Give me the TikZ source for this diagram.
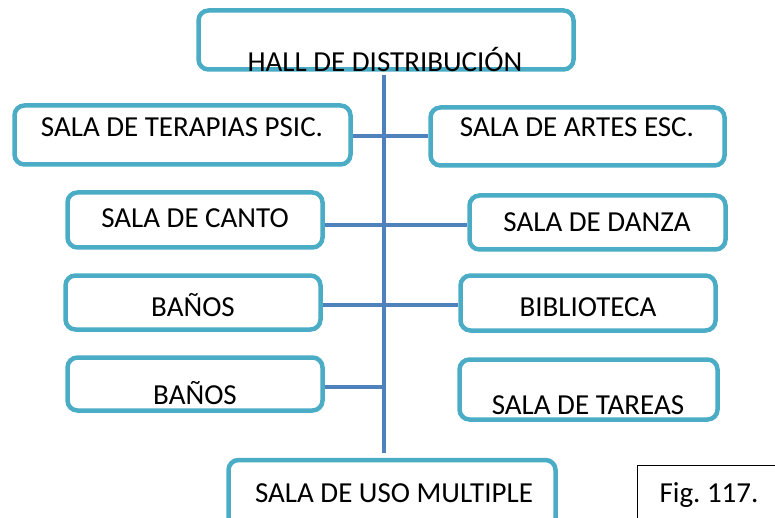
\documentclass[tikz,border=0pt]{standalone}
\usepackage{fontspec}
\setmainfont{Carlito}
\definecolor{boxc}{RGB}{75,172,198}
\definecolor{linec}{RGB}{79,129,189}
\begin{document}
\begin{tikzpicture}[x=1pt,y=-1pt,
  box/.style={draw=boxc,line width=4.5pt,rounded corners=10pt,fill=white,inner sep=0pt},
  figbox/.style={draw=black,line width=0.8pt,fill=white,inner sep=0pt},
  lbl/.style={anchor=base,inner sep=0pt,font=\fontsize{29}{34}\selectfont},
  conn/.style={draw=linec,line width=4.5pt}]
\useasboundingbox (0,0) rectangle (775,518);
\clip (0,0) rectangle (775,518);
% connector rows
\coordinate (r1) at (0,136);
\coordinate (r2) at (0,225);
\coordinate (r3) at (0,305);
\coordinate (r4) at (0,387);
\coordinate (vtop) at (384,75);
\coordinate (vbot) at (384,453);
% boxes
\node[box,minimum width=375pt,minimum height=59pt] (hall) at (386,40) {};
\node[box,minimum width=336pt,minimum height=59pt] (terapias) at (182.5,135) {};
\node[box,minimum width=294pt,minimum height=58pt] (artes) at (577.5,136.5) {};
\node[box,minimum width=255pt,minimum height=55pt] (canto) at (195,220) {};
\node[box,minimum width=256pt,minimum height=54pt] (danza) at (597.5,222.5) {};
\node[box,minimum width=255pt,minimum height=54pt] (banos1) at (193,302.5) {};
\node[box,minimum width=255pt,minimum height=55pt] (biblio) at (588,303) {};
\node[box,minimum width=255pt,minimum height=53pt] (banos2) at (195,384) {};
\node[box,minimum width=258pt,minimum height=60pt] (tareas) at (588.5,389.5) {};
\node[box,minimum width=327pt,minimum height=68pt] (uso) at (392,494) {};
\node[figbox,minimum width=160pt,minimum height=80pt] (fig) at (717,505) {};
% connectors
\draw[conn] (vtop) -- (vbot);
\draw[conn] (terapias.east |- r1) -- (artes.west |- r1);
\draw[conn] (canto.east |- r2) -- (danza.west |- r2);
\draw[conn] (banos1.east |- r3) -- (biblio.west |- r3);
\draw[conn] (banos2.east |- r4) -- (vtop |- r4);
% labels
\node[lbl] (hallt) at (385,72) {HALL DE DISTRIBUCIÓN};
\node[lbl] (terapiast) at (182,136.5) {SALA DE TERAPIAS PSIC.};
\node[lbl] (artest) at (577,136.5) {SALA DE ARTES ESC.};
\node[lbl] (cantot) at (195,227.5) {SALA DE CANTO};
\node[lbl] (danzat) at (597,231.5) {SALA DE DANZA};
\node[lbl] (banos1t) at (193,316.5) {BAÑOS};
\node[lbl] (bibliot) at (588,316.5) {BIBLIOTECA};
\node[lbl] (banos2t) at (195,404.5) {BAÑOS};
\node[lbl] (tareast) at (588,414.5) {SALA DE TAREAS};
\node[lbl] (usot) at (394,502.5) {SALA DE USO MULTIPLE};
\node[lbl] (figt) at (709,502.5) {Fig.~117.};
\end{tikzpicture}
\end{document}
